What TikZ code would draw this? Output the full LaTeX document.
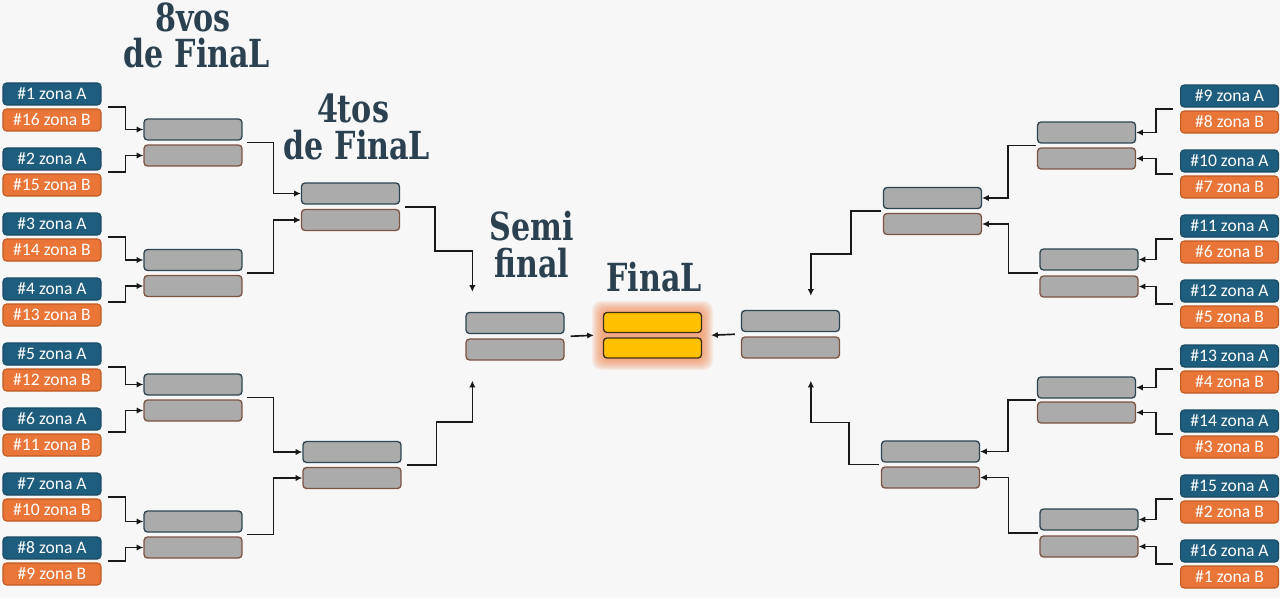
\documentclass[tikz,border=0pt]{standalone}
\usepackage{fontspec}
\setmainfont{Carlito}
\newfontfamily\headfont[FakeStretch=0.78]{DejaVu Serif}
\usetikzlibrary{arrows.meta,positioning,calc}
\definecolor{bgcol}{HTML}{F7F7F7}
\definecolor{zonaA}{HTML}{1E5D7D}
\definecolor{zonaAline}{HTML}{174A63}
\definecolor{zonaB}{HTML}{E97638}
\definecolor{zonaBline}{HTML}{C05A24}
\definecolor{slotfill}{HTML}{ABABAB}
\definecolor{slotline}{HTML}{2E4450}
\definecolor{slotbrown}{HTML}{7B5444}
\definecolor{gold}{HTML}{FFC000}
\definecolor{goldline}{HTML}{3F2E1A}
\definecolor{glow}{HTML}{F2915F}
\definecolor{headcol}{HTML}{2C4150}

\begin{document}
\begin{tikzpicture}[
                x=0.02cm, y=-0.02cm,
                seed/.style={rectangle, rounded corners=2pt, line width=0.6pt, text=white,
                        font=\fontsize{10}{10}\selectfont, minimum width=1.96cm,
                        minimum height=0.44cm, inner sep=0pt},
                seedA/.style={seed, fill=zonaA, draw=zonaAline},
                seedB/.style={seed, fill=zonaB, draw=zonaBline},
                slot/.style={rectangle, rounded corners=2pt, line width=0.75pt, fill=slotfill,
                        draw=slotline, minimum width=1.96cm, minimum height=0.42cm, inner sep=0pt},
                slotb/.style={slot, draw=slotbrown},
                finbox/.style={slot, fill=gold, draw=goldline, minimum height=0.40cm},
                heading/.style={font=\headfont\bfseries\fontsize{22}{22}\selectfont,
                        text=headcol, inner sep=0pt},
                edge/.style={draw, -{Latex[length=3.8pt,width=3.6pt]}, line width=0.95pt, black!90},
            ]
            \fill[bgcol] (0,0) rectangle (1280,598);
            \useasboundingbox (0,0) rectangle (1280,598);

            % ── Round titles ──────────────────────────────────────
            \node[heading] (h8a) at (193,17)  {8vos};
            \node[heading] (h8b) at (197,53)  {de FinaL};
            \node[heading] (h4a) at (353,108) {4tos};
            \node[heading] (h4b) at (357,145) {de FinaL};
            \node[heading] (hsa) at (532,226) {Semi};
            \node[heading] (hsb) at (532,263) {final};
            \node[heading] (hf)  at (654,277) {FinaL};

            % ── Left seeds ────────────────────────────────────────
            \node[seedA] (ls1a) at (52,94)  {\#1 zona A};
            \node[seedB] (ls1b) at (52,120) {\#16 zona B};
            \node[seedA] (ls2a) at (52,159) {\#2 zona A};
            \node[seedB] (ls2b) at (52,185) {\#15 zona B};
            \node[seedA] (ls3a) at (52,224) {\#3 zona A};
            \node[seedB] (ls3b) at (52,250) {\#14 zona B};
            \node[seedA] (ls4a) at (52,289) {\#4 zona A};
            \node[seedB] (ls4b) at (52,315) {\#13 zona B};
            \node[seedA] (ls5a) at (52,354) {\#5 zona A};
            \node[seedB] (ls5b) at (52,380) {\#12 zona B};
            \node[seedA] (ls6a) at (52,419) {\#6 zona A};
            \node[seedB] (ls6b) at (52,445) {\#11 zona B};
            \node[seedA] (ls7a) at (52,484) {\#7 zona A};
            \node[seedB] (ls7b) at (52,510) {\#10 zona B};
            \node[seedA] (ls8a) at (52,548) {\#8 zona A};
            \node[seedB] (ls8b) at (52,574) {\#9 zona B};

            % ── Right seeds ───────────────────────────────────────
            \node[seedA] (rs1a) at (1229.5,96)  {\#9 zona A};
            \node[seedB] (rs1b) at (1229.5,122) {\#8 zona B};
            \node[seedA] (rs2a) at (1229.5,161) {\#10 zona A};
            \node[seedB] (rs2b) at (1229.5,187) {\#7 zona B};
            \node[seedA] (rs3a) at (1229.5,226) {\#11 zona A};
            \node[seedB] (rs3b) at (1229.5,252) {\#6 zona B};
            \node[seedA] (rs4a) at (1229.5,291) {\#12 zona A};
            \node[seedB] (rs4b) at (1229.5,317) {\#5 zona B};
            \node[seedA] (rs5a) at (1229.5,356) {\#13 zona A};
            \node[seedB] (rs5b) at (1229.5,382) {\#4 zona B};
            \node[seedA] (rs6a) at (1229.5,421) {\#14 zona A};
            \node[seedB] (rs6b) at (1229.5,447) {\#3 zona B};
            \node[seedA] (rs7a) at (1229.5,486) {\#15 zona A};
            \node[seedB] (rs7b) at (1229.5,512) {\#2 zona B};
            \node[seedA] (rs8a) at (1229.5,551) {\#16 zona A};
            \node[seedB] (rs8b) at (1229.5,577) {\#1 zona B};

            % ── 8vos slots ────────────────────────────────────────
            \node[slot]  (lo1t) at (193,129.5) {};
            \node[slotb] (lo1b) at (193,155.5) {};
            \node[slot]  (lo2t) at (193,260)   {};
            \node[slotb] (lo2b) at (193,286)   {};
            \node[slot]  (lo3t) at (193,384.5) {};
            \node[slotb] (lo3b) at (193,410.5) {};
            \node[slot]  (lo4t) at (193,521.5) {};
            \node[slotb] (lo4b) at (193,547.5) {};
            \node[slot]  (ro1t) at (1086.5,132.5) {};
            \node[slotb] (ro1b) at (1086.5,158.5) {};
            \node[slot]  (ro2t) at (1089,259.5)   {};
            \node[slotb] (ro2b) at (1089,286.5)   {};
            \node[slot]  (ro3t) at (1086.5,387.5) {};
            \node[slotb] (ro3b) at (1086.5,412.5) {};
            \node[slot]  (ro4t) at (1089,519.5)   {};
            \node[slotb] (ro4b) at (1089,546.5)   {};

            % ── 4tos slots ────────────────────────────────────────
            \node[slot]  (lq1t) at (350.5,193.5) {};
            \node[slotb] (lq1b) at (350.5,220)   {};
            \node[slot]  (lq2t) at (352,452)     {};
            \node[slotb] (lq2b) at (352,478)     {};
            \node[slot]  (rq1t) at (932.5,198)   {};
            \node[slotb] (rq1b) at (932.5,224)   {};
            \node[slot]  (rq2t) at (930.5,451.5) {};
            \node[slotb] (rq2b) at (930.5,477.5) {};

            % ── Semifinal + final ─────────────────────────────────
            \node[slot]  (lsf1) at (515,323)    {};
            \node[slotb] (lsf2) at (515,349.5)  {};
            \node[slot]  (rsf1) at (790.5,321)  {};
            \node[slotb] (rsf2) at (790.5,347.5) {};
            \coordinate (fglow1) at (603,312);
            \coordinate (fglow2) at (702,359);
            \foreach \g in {1,...,11}
                \fill[glow, opacity=0.11, rounded corners=5pt]
                    ($(fglow1)+(-\g,-\g)$) rectangle ($(fglow2)+(\g,\g)$);
            \node[finbox] (fin1) at (652.5,322.5) {};
            \node[finbox] (fin2) at (652.5,348)   {};

            % ── Left: seeds -> 8vos ───────────────────────────────
            \draw[edge] ($(ls1a.south east)!.5!(ls1b.north east)+(6,0)$) -- ++(18,0) |- (lo1t.west);
            \draw[edge] ($(ls2a.south east)!.5!(ls2b.north east)+(6,0)$) -- ++(18,0) |- (lo1b.west);
            \draw[edge] ($(ls3a.south east)!.5!(ls3b.north east)+(6,0)$) -- ++(18,0) |- (lo2t.west);
            \draw[edge] ($(ls4a.south east)!.5!(ls4b.north east)+(6,0)$) -- ++(18,0) |- (lo2b.west);
            \draw[edge] ($(ls5a.south east)!.5!(ls5b.north east)+(6,0)$) -- ++(18,0) |- (lo3t.west);
            \draw[edge] ($(ls6a.south east)!.5!(ls6b.north east)+(6,0)$) -- ++(18,0) |- (lo3b.west);
            \draw[edge] ($(ls7a.south east)!.5!(ls7b.north east)+(6,0)$) -- ++(18,0) |- (lo4t.west);
            \draw[edge] ($(ls8a.south east)!.5!(ls8b.north east)+(6,0)$) -- ++(18,0) |- (lo4b.west);

            % ── Left: 8vos -> 4tos -> semi ────────────────────────
            \draw[edge] ($(lo1t.south east)!.5!(lo1b.north east)+(4,0)$) -- ++(27,0) |- (lq1t.west);
            \draw[edge] ($(lo2t.south east)!.5!(lo2b.north east)+(4,0)$) -- ++(27,0) |- (lq1b.west);
            \draw[edge] ($(lo3t.south east)!.5!(lo3b.north east)+(4,0)$) -- ++(27,0) |- (lq2t.west);
            \draw[edge] ($(lo4t.south east)!.5!(lo4b.north east)+(4,0)$) -- ++(27,0) |- (lq2b.west);
            \coordinate (lin1) at ($(lsf1.north west)+(7,-20)$);
            \coordinate (lin2) at ($(lsf2.south west)+(7,20)$);
            \draw[edge] ($(lq1t.south east)!.5!(lq1b.north east)+(5,0)$) -- ++(30,0) -- ++(0,44) -| (lin1);
            \draw[edge] ($(lq2t.south east)!.5!(lq2b.north east)+(5,0)$) -- ++(30,0) -- ++(0,-43) -| (lin2);

            % ── Semis -> final ────────────────────────────────────
            \draw[edge] ($(lsf1.south east)!.5!(lsf2.north east)+(6,0)$) -- ($(fin1.south west)!.5!(fin2.north west)+(-9,0)$);
            \draw[edge] ($(rsf1.south west)!.5!(rsf2.north west)+(-6,0)$) -- ($(fin1.south east)!.5!(fin2.north east)+(9,0)$);

            % ── Right: seeds -> 8vos ──────────────────────────────
            \draw[edge] ($(rs1a.south west)!.5!(rs1b.north west)+(-7,0)$) -- ++(-17,0) |- (ro1t.east);
            \draw[edge] ($(rs2a.south west)!.5!(rs2b.north west)+(-7,0)$) -- ++(-17,0) |- (ro1b.east);
            \draw[edge] ($(rs3a.south west)!.5!(rs3b.north west)+(-7,0)$) -- ++(-17,0) |- (ro2t.east);
            \draw[edge] ($(rs4a.south west)!.5!(rs4b.north west)+(-7,0)$) -- ++(-17,0) |- (ro2b.east);
            \draw[edge] ($(rs5a.south west)!.5!(rs5b.north west)+(-7,0)$) -- ++(-17,0) |- (ro3t.east);
            \draw[edge] ($(rs6a.south west)!.5!(rs6b.north west)+(-7,0)$) -- ++(-17,0) |- (ro3b.east);
            \draw[edge] ($(rs7a.south west)!.5!(rs7b.north west)+(-7,0)$) -- ++(-17,0) |- (ro4t.east);
            \draw[edge] ($(rs8a.south west)!.5!(rs8b.north west)+(-7,0)$) -- ++(-17,0) |- (ro4b.east);

            % ── Right: 8vos -> 4tos -> semi ───────────────────────
            \draw[edge] ($(ro1t.south west)!.5!(ro1b.north west)+(-1,0)$) -- ++(-28,0) |- (rq1t.east);
            \draw[edge] ($(ro2t.south west)!.5!(ro2b.north west)+(-1,0)$) -- ++(-30,0) |- (rq1b.east);
            \draw[edge] ($(ro3t.south west)!.5!(ro3b.north west)+(-1,0)$) -- ++(-28,0) |- (rq2t.east);
            \draw[edge] ($(ro4t.south west)!.5!(ro4b.north west)+(-1,0)$) -- ++(-30,0) |- (rq2b.east);
            \coordinate (rin1) at ($(rsf1.north west)+(70,-14)$);
            \coordinate (rin2) at ($(rsf2.south west)+(70,22)$);
            \draw[edge] ($(rq1t.south west)!.5!(rq1b.north west)+(-2,0)$) -- ++(-30,0) -- ++(0,43) -| (rin1);
            \draw[edge] ($(rq2t.south west)!.5!(rq2b.north west)+(-2,0)$) -- ++(-30,0) -- ++(0,-42) -| (rin2);
        \end{tikzpicture}
\end{document}
